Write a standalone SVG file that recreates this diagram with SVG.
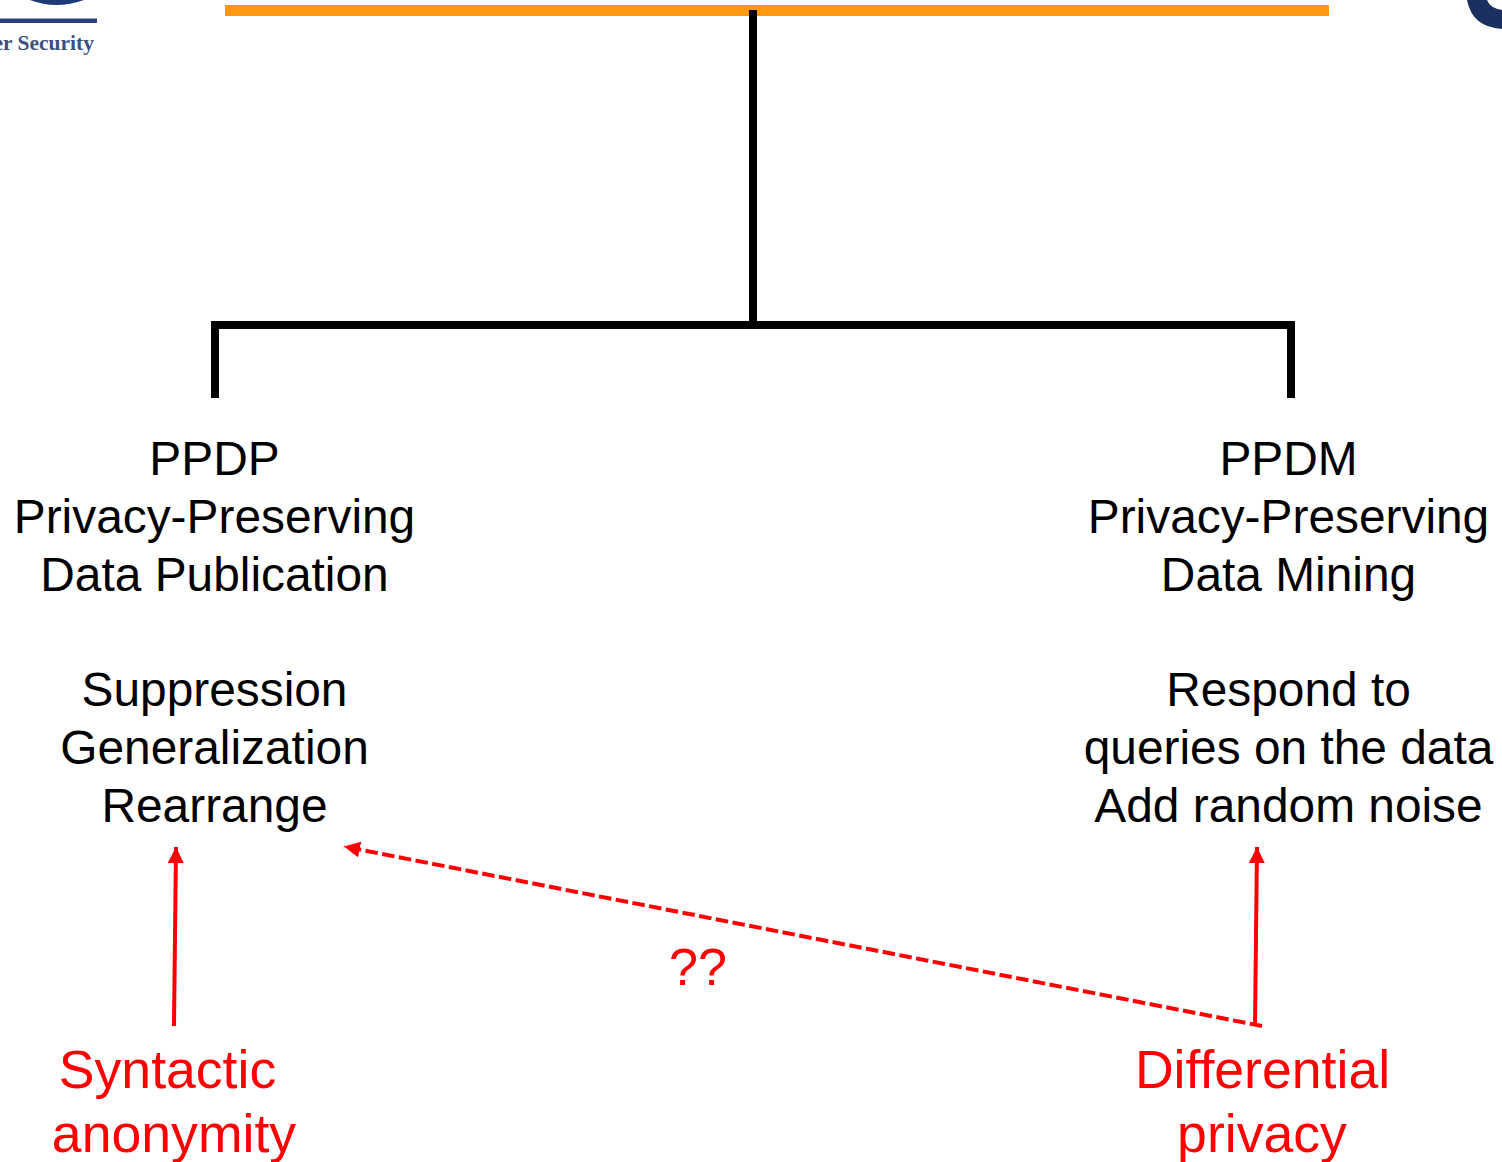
<svg xmlns="http://www.w3.org/2000/svg" width="1502" height="1162" viewBox="0 0 1502 1162">
<style>
text{font-family:"Liberation Sans",Arial,sans-serif;text-anchor:middle}
.k{font-size:47.85px;fill:#000}
.r{font-size:53.6px;fill:#f00}
.q{font-size:52px;fill:#f00}
.b{fill:none;stroke:#000;stroke-width:8}
.a{fill:none;stroke:#f00;stroke-width:4}
</style>
<defs>
<marker id="h" markerUnits="userSpaceOnUse" markerWidth="18" markerHeight="18" refX="16" refY="8" orient="auto"><path d="M0 0L16 8L0 16z" fill="#f00"/></marker>
</defs>
<rect width="1502" height="1162" fill="#fff"/>
<g id="logo-left">
<path d="M30 0Q56 10 84 0z" fill="#1f3a7a"/>
<rect x="0" y="18.500" width="97" height="4.500" fill="#2a4080"/>
<text x="94" y="50" style="font-family:'Liberation Serif',serif;font-size:21.500px;font-weight:bold;text-anchor:end" fill="#3c4f80">er Security</text>
</g>
<path id="logo-right" d="M1467 0Q1472 27 1502 29V10Q1490 8 1487 0z" fill="#1b3060"/>
<rect id="title-rule" x="225" y="5" width="1104" height="11" fill="#ff9912"/>
<g id="connectors">
<path class="b" d="M753 10V325"/>
<path class="b" d="M215 398V325H1291V398"/>
<path class="a" marker-end="url(#h)" d="M174 1026L176 847"/>
<path class="a" marker-end="url(#h)" d="M1255 1026L1257 847"/>
<path class="a" stroke-dasharray="12.500 4.500" marker-end="url(#h)" d="M1262 1026L344 846.500"/>
</g>
<g id="ppdp"><text class="k" x="214.500" y="475">PPDP</text><text class="k" x="214.500" y="533">Privacy-Preserving</text><text class="k" x="214.500" y="591">Data Publication</text></g>
<g id="ppdm"><text class="k" x="1288.500" y="475">PPDM</text><text class="k" x="1288.500" y="533">Privacy-Preserving</text><text class="k" x="1288.500" y="591">Data Mining</text></g>
<g id="ppdp-methods"><text class="k" x="214.500" y="706">Suppression</text><text class="k" x="214.500" y="764">Generalization</text><text class="k" x="214.500" y="822">Rearrange</text></g>
<g id="ppdm-methods"><text class="k" x="1288.500" y="706">Respond to</text><text class="k" x="1288.500" y="764">queries on the data</text><text class="k" x="1288.500" y="822">Add random noise</text></g>
<g id="syntactic"><text class="r" x="167.500" y="1088">Syntactic</text><text class="r" x="174" y="1152">anonymity</text></g>
<g id="differential"><text class="r" x="1262.500" y="1088">Differential</text><text class="r" x="1262" y="1152">privacy</text></g>
<text id="qq" class="q" x="698" y="985">??</text>
</svg>
